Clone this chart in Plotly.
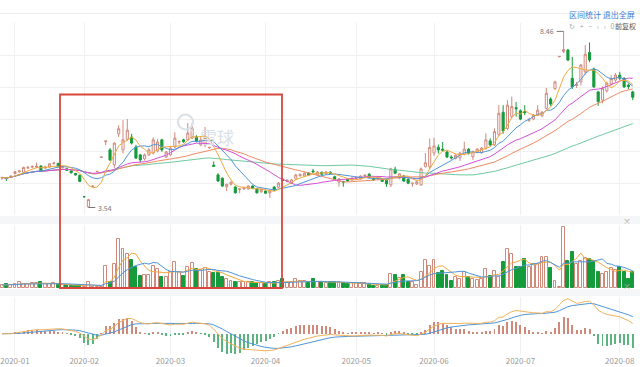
import pandas as pd
import plotly.graph_objects as go

# ---------------- trading calendar ----------------
holidays = pd.to_datetime([
    "2020-01-01", "2020-01-24", "2020-01-27", "2020-01-28", "2020-01-29",
    "2020-01-30", "2020-01-31", "2020-04-06", "2020-05-01", "2020-05-04",
    "2020-05-05", "2020-06-25", "2020-06-26"])
dates = [d for d in pd.bdate_range("2019-12-27", "2020-08-06") if d not in holidays]

# ---------------- data ----------------
open_ = [4.36, 4.37, 4.38,
         4.49, 4.54, 4.52, 4.64, 4.67, 4.66, 4.70, 4.64, 4.67, 4.77, 4.77, 4.66, 4.62, 4.56, 4.49, 4.44,
         3.84, 3.56, 4.13, 4.54, 4.94, 5.38, 5.15, 4.73, 5.60, 5.15, 5.45, 5.51, 5.23, 5.01, 4.90, 5.01,
         5.06, 5.12, 5.43, 4.95,
         5.01, 5.23, 5.37, 5.43, 5.43, 5.48, 5.51, 5.29, 5.29, 5.21, 4.72, 4.45, 4.36, 4.12, 4.19, 4.11,
         4.05, 4.06, 4.06, 4.14, 4.06, 3.98,
         4.00, 3.95, 4.11, 4.11, 4.33, 4.27, 4.22, 4.34, 4.43, 4.42, 4.50, 4.56, 4.45, 4.52, 4.48, 4.53,
         4.40, 4.25, 4.27, 4.33, 4.31,
         4.35, 4.34, 4.42, 4.47, 4.36, 4.34, 4.33, 4.31, 4.17, 4.61, 4.36, 4.42, 4.33, 4.20, 4.20, 4.17,
         4.68, 4.68,
         5.06, 5.22, 5.17, 5.09, 4.95, 4.91, 4.93, 5.03, 5.17, 4.96, 5.08, 5.07, 5.19, 5.40, 5.29, 5.57,
         6.20, 5.75, 6.08, 6.33, 6.24,
         6.22, 5.98, 6.01, 6.12, 6.10, 6.31, 6.57, 6.86, 7.75, 7.90, 7.94, 7.15, 6.95, 7.05, 7.33, 7.87,
         7.40, 6.77, 6.54, 6.80, 6.99, 7.10, 7.24,
         7.15, 6.96, 6.77]
high = [4.40, 4.39, 4.44,
        4.56, 4.58, 4.68, 4.70, 4.72, 4.80, 4.72, 4.70, 4.78, 4.82, 4.79, 4.70, 4.64, 4.58, 4.51, 4.46,
        3.85, 3.78, 4.14, 4.55, 4.95, 5.40, 5.20, 5.36, 5.84, 5.98, 6.01, 5.60, 5.29, 5.04, 5.05, 5.20,
        5.50, 5.45, 5.46, 5.12,
        5.23, 5.64, 5.42, 5.46, 5.90, 5.90, 5.56, 5.51, 5.79, 5.23, 4.83, 4.50, 4.38, 4.20, 4.27, 4.14,
        4.06, 4.11, 4.16, 4.16, 4.08, 4.07,
        4.02, 4.02, 4.14, 4.25, 4.35, 4.33, 4.34, 4.48, 4.49, 4.52, 4.53, 4.62, 4.56, 4.55, 4.56, 4.55,
        4.43, 4.36, 4.28, 4.35, 4.38,
        4.40, 4.44, 4.47, 4.50, 4.38, 4.41, 4.36, 4.33, 4.65, 4.68, 4.50, 4.45, 4.35, 4.23, 4.28, 4.66,
        5.06, 5.47,
        5.49, 5.30, 5.37, 5.12, 5.00, 5.03, 5.09, 5.38, 5.20, 5.13, 5.20, 5.23, 5.61, 5.47, 5.75, 6.40,
        6.40, 6.54, 6.64, 6.49, 6.28,
        6.40, 6.05, 6.15, 6.40, 6.24, 6.88, 6.62, 7.08, 7.76, 8.46, 7.97, 7.75, 7.05, 7.55, 8.08, 8.15,
        7.45, 6.80, 6.92, 7.06, 7.24, 7.30, 7.33,
        7.18, 7.00, 6.80]
low = [4.31, 4.28, 4.36,
       4.47, 4.51, 4.50, 4.62, 4.64, 4.64, 4.54, 4.62, 4.65, 4.74, 4.66, 4.63, 4.56, 4.49, 4.43, 4.25,
       3.84, 3.54, 4.13, 4.54, 4.94, 5.28, 4.84, 4.64, 5.51, 5.05, 5.40, 5.30, 4.90, 4.80, 4.85, 4.98,
       5.02, 5.08, 5.10, 4.92,
       4.98, 5.20, 5.30, 5.35, 5.40, 5.45, 5.36, 5.25, 5.22, 5.18, 4.69, 4.26, 4.12, 4.00, 4.16, 3.93,
       3.94, 4.03, 4.04, 4.06, 3.93, 3.95,
       3.92, 3.81, 4.00, 4.08, 4.28, 4.24, 4.19, 4.32, 4.40, 4.40, 4.43, 4.50, 4.43, 4.45, 4.46, 4.48,
       4.31, 4.12, 4.12, 4.26, 4.29,
       4.32, 4.32, 4.41, 4.35, 4.29, 4.32, 4.25, 4.12, 4.11, 4.47, 4.33, 4.25, 4.19, 4.12, 4.17, 4.15,
       4.66, 4.62,
       4.98, 5.05, 5.10, 4.92, 4.88, 4.88, 4.84, 5.00, 5.02, 4.87, 5.05, 5.04, 5.15, 5.25, 5.26, 5.54,
       5.60, 5.70, 6.02, 6.08, 5.98,
       6.12, 5.93, 5.98, 6.10, 6.07, 6.28, 6.38, 6.82, 7.75, 7.85, 7.63, 6.85, 6.88, 6.95, 7.25, 7.60,
       6.88, 6.38, 6.45, 6.75, 6.94, 7.05, 7.10,
       6.88, 6.85, 6.54]
close = [4.38, 4.35, 4.42,
         4.54, 4.56, 4.66, 4.66, 4.68, 4.70, 4.56, 4.67, 4.76, 4.78, 4.68, 4.68, 4.58, 4.51, 4.45, 4.27,
         3.84, 3.76, 4.14, 4.55, 4.95, 5.40, 4.87, 5.34, 5.74, 5.43, 5.70, 5.34, 4.92, 4.87, 5.01, 5.15,
         5.43, 5.37, 5.15, 5.09,
         5.20, 5.48, 5.38, 5.38, 5.62, 5.76, 5.40, 5.43, 5.48, 5.22, 4.69, 4.28, 4.14, 4.19, 4.25, 3.95,
         4.06, 4.09, 4.14, 4.08, 3.95, 4.05,
         3.94, 4.00, 4.03, 4.22, 4.30, 4.30, 4.31, 4.45, 4.46, 4.50, 4.45, 4.54, 4.53, 4.47, 4.53, 4.50,
         4.33, 4.34, 4.25, 4.28, 4.36,
         4.37, 4.42, 4.44, 4.37, 4.31, 4.39, 4.27, 4.20, 4.62, 4.50, 4.48, 4.28, 4.22, 4.22, 4.26, 4.62,
         4.79, 5.22,
         5.26, 5.15, 5.14, 4.95, 4.93, 5.00, 5.06, 5.17, 5.05, 5.10, 5.17, 5.20, 5.43, 5.29, 5.66, 6.17,
         5.68, 6.40, 6.36, 6.30, 6.01,
         6.19, 5.99, 6.12, 6.26, 6.20, 6.73, 6.43, 7.05, 7.76, 7.95, 7.66, 6.91, 6.98, 7.52, 7.82, 7.66,
         6.91, 6.50, 6.87, 7.01, 7.14, 7.24, 7.15,
         6.91, 6.92, 6.62]
volume = [3, 4, 3,
          4, 6, 4, 4, 5, 5, 6, 4, 4, 5, 3, 3, 3, 2.5, 2.5, 3,
          1.5, 6.3, 1, 1, 1.5, 22.3, 6, 24, 49, 39, 34, 28, 20.7, 12.3, 13.3, 13.3,
          22.3, 19, 11.3, 10.7,
          15.7, 25.7, 15.7, 12.3, 20.7, 25, 19, 18, 20, 15.7, 14.7, 14.7, 11.3, 9, 6.7, 5.7,
          5.7, 5.7, 5.7, 5.7, 4.7, 4.7,
          4, 5.7, 5.7, 6.7, 9, 4.7, 5.7, 9, 6.7, 6.7, 4.7, 9, 5.7, 5.7, 5, 5.7,
          5.7, 6.3, 4.7, 4, 5.3,
          4.7, 4.7, 4.7, 4, 2.3, 2.3, 3.3, 3.3, 14, 13, 10, 13, 5.7, 5.7, 3.3, 15.7,
          28, 22.3,
          28, 15, 17.3, 13, 7.3, 11.3, 9, 15.7, 10.7, 9, 8.3, 9, 19, 12.3, 17.3, 10.7,
          25.7, 39, 34, 20.7, 20.7,
          29, 21.3, 24, 24, 30.7, 30.7, 20, 7.3, 0.7, 61.3, 27.3, 35.7, 24, 27.3, 30, 29,
          27.3, 15.7, 14, 15.7, 20, 18, 20.7,
          15.7, 9, 16.3]
month_labels = ["2020-01", "2020-02", "2020-03", "2020-04", "2020-05", "2020-06", "2020-07", "2020-08"]
price_low_label = 3.54
price_high_label = 8.46

# ---------------- derived indicators ----------------
n = len(dates)
xs = list(range(n))
s = pd.Series(close)
ma = {k: s.rolling(k, min_periods=1).mean() for k in (5, 10, 20, 30, 60)}
vs = pd.Series(volume)
vma5 = vs.rolling(5, min_periods=1).mean()
vma10 = vs.rolling(10, min_periods=1).mean()
ema12 = s.ewm(span=12, adjust=False).mean()
ema26 = s.ewm(span=26, adjust=False).mean()
dif = ema12 - ema26
dea = dif.ewm(span=9, adjust=False).mean()
hist = 2 * (dif - dea)

month_pos = []
for lab in month_labels:
    y, m = lab.split("-")
    for i, d in enumerate(dates):
        if d.year == int(y) and d.month == int(m):
            month_pos.append(i)
            break

UP = "#d08a7c"
DN = "#159a3c"
W, H = 640, 367


def py(ypx):
    return 1 - ypx / H


fig = go.Figure()

# price candles
fig.add_trace(go.Candlestick(
    x=xs, open=open_, high=high, low=low, close=close,
    increasing=dict(line=dict(color=UP, width=1), fillcolor="white"),
    decreasing=dict(line=dict(color=DN, width=1), fillcolor=DN),
    whiskerwidth=0, xaxis="x", yaxis="y", hoverinfo="skip"))

ma_colors = {5: "#f2a93b", 10: "#4f95d9", 20: "#d44fd6", 30: "#f08a63", 60: "#6fc9a0"}
for k in (60, 30, 20, 10, 5):
    fig.add_trace(go.Scatter(x=xs, y=ma[k], mode="lines",
                             line=dict(color=ma_colors[k], width=1),
                             xaxis="x", yaxis="y", hoverinfo="skip"))

# volume
vcol = ["white" if c >= o else DN for o, c in zip(open_, close)]
vline = [UP if c >= o else DN for o, c in zip(open_, close)]
fig.add_trace(go.Bar(x=xs, y=volume, width=0.68,
                     marker=dict(color=vcol, line=dict(color=vline, width=1)),
                     xaxis="x2", yaxis="y2", hoverinfo="skip"))
fig.add_trace(go.Scatter(x=xs, y=vma5, mode="lines", line=dict(color="#f2a93b", width=1),
                         xaxis="x2", yaxis="y2", hoverinfo="skip"))
fig.add_trace(go.Scatter(x=xs, y=vma10, mode="lines", line=dict(color="#4f95d9", width=1),
                         xaxis="x2", yaxis="y2", hoverinfo="skip"))

# MACD
hcol = ["#d08a7c" if h >= 0 else "#5cb47e" for h in hist]
fig.add_trace(go.Bar(x=xs, y=hist, width=0.22, marker=dict(color=hcol, line=dict(width=0)),
                     xaxis="x3", yaxis="y3", hoverinfo="skip"))
fig.add_trace(go.Scatter(x=xs, y=dea, mode="lines", line=dict(color="#4f95d9", width=1),
                         xaxis="x3", yaxis="y3", hoverinfo="skip"))
fig.add_trace(go.Scatter(x=xs, y=dif, mode="lines", line=dict(color="#f2b25a", width=1),
                         xaxis="x3", yaxis="y3", hoverinfo="skip"))

# axis ranges
prange = price_high_label - price_low_label
p_lo = price_low_label - 0.0425 * prange
p_hi = price_high_label + 0.0476 * prange
p_grid = [p_lo + i * (p_hi - p_lo) / 6 for i in range(7)]
m_hi = max(dif.max(), dea.max(), hist.max())
m_lo = min(dif.min(), dea.min(), hist.min())
xr = [-0.47, n + 0.68]

grid = "#f0f0f0"
common_x = dict(range=xr, tickvals=month_pos, showgrid=True, gridcolor=grid, gridwidth=1,
                zeroline=False, showline=False, ticks="")
fig.update_layout(
    width=W, height=H, margin=dict(l=0, r=0, t=0, b=0),
    paper_bgcolor="white", plot_bgcolor="white", showlegend=False,
    font=dict(family="Noto Sans CJK SC, Noto Sans, sans-serif"),
    xaxis=dict(domain=[0, 1], anchor="y", showticklabels=False,
               rangeslider=dict(visible=False), **common_x),
    xaxis2=dict(domain=[0, 1], anchor="y2", matches="x", showticklabels=False, **common_x),
    xaxis3=dict(domain=[0, 1], anchor="y3", matches="x", showticklabels=True,
                ticktext=month_labels, tickfont=dict(size=8, color="#9a9a9a"), **common_x),
    yaxis=dict(domain=[py(215), py(23)], range=[p_lo, p_hi], tickvals=p_grid,
               showticklabels=False, showgrid=True, gridcolor=grid, zeroline=False),
    yaxis2=dict(domain=[py(288), py(225)], range=[0, max(volume) * 1.03],
                showticklabels=False, showgrid=False, zeroline=False),
    yaxis3=dict(domain=[py(355), py(297)], range=[m_lo * 1.05, m_hi * 1.05],
                showticklabels=False, showgrid=False, zeroline=False),
    bargap=0,
)

shapes = []
# panel separator bands
for y0, y1 in ((216, 224), (289, 296)):
    shapes.append(dict(type="rect", xref="paper", yref="paper", x0=0, x1=1,
                       y0=py(y1), y1=py(y0), fillcolor="#f5f6f7", line=dict(width=0), layer="below"))
# toolbar divider
shapes.append(dict(type="line", xref="paper", yref="paper", x0=0, x1=1, y0=py(13.5), y1=py(13.5),
                   line=dict(color="#eeeeee", width=1)))
# highlight rectangle
shapes.append(dict(type="rect", xref="paper", yref="paper", x0=60 / W, x1=282 / W,
                   y0=py(288), y1=py(94.5), line=dict(color="#d8473d", width=1.8)))
# high/low leader lines
i_hi = high.index(max(high))
i_lo = low.index(min(low))
shapes.append(dict(type="line", xref="x", yref="y", x0=i_hi - 1.6, x1=i_hi, y0=max(high), y1=max(high),
                   line=dict(color="#777", width=1)))
shapes.append(dict(type="line", xref="x", yref="y", x0=i_lo, x1=i_lo + 1.6, y0=min(low), y1=min(low),
                   line=dict(color="#777", width=1)))
# watermark logo circle
shapes.append(dict(type="circle", xref="paper", yref="paper", x0=178 / W, x1=193 / W,
                   y0=py(129.5), y1=py(114.5), line=dict(color="#d9e0e8", width=2)))
fig.update_layout(shapes=shapes)

ann = [
    dict(x=i_hi - 1.7, y=max(high), xref="x", yref="y", text=f"{max(high):.2f}", showarrow=False,
         xanchor="right", font=dict(size=7, color="#777")),
    dict(x=i_lo + 1.7, y=min(low), xref="x", yref="y", text=f"{min(low):.2f}", showarrow=False,
         xanchor="left", font=dict(size=7, color="#777")),
    dict(x=186 / W, y=py(122), xref="paper", yref="paper", text="✕", showarrow=False,
         font=dict(size=8, color="#d9e0e8")),
    dict(x=217 / W, y=py(122), xref="paper", yref="paper", text="雪球", showarrow=False,
         font=dict(size=17, color="#d9e0e8")),
    dict(x=637 / W, y=py(7), xref="paper", yref="paper", text="区间统计 退出全屏", showarrow=False,
         xanchor="right", font=dict(size=8, color="#3b7dd4")),
    dict(x=617 / W, y=py(19.5), xref="paper", yref="paper", text="↻   +   −   ‹   ›   0", showarrow=False,
         xanchor="right", font=dict(size=7, color="#aaaaaa")),
    dict(x=638 / W, y=py(19.5), xref="paper", yref="paper", text="前复权", showarrow=False,
         xanchor="right", font=dict(size=7, color="#555555")),
    dict(x=633 / W, y=py(220), xref="paper", yref="paper", text="×", showarrow=False,
         font=dict(size=8, color="#aaaaaa")),
    dict(x=633 / W, y=py(292.5), xref="paper", yref="paper", text="×", showarrow=False,
         font=dict(size=8, color="#aaaaaa")),
]
fig.update_layout(annotations=ann)

fig.write_html("out.html", config={"displayModeBar": False},
               post_script="document.body.style.margin='0';document.body.style.overflow='hidden';")
